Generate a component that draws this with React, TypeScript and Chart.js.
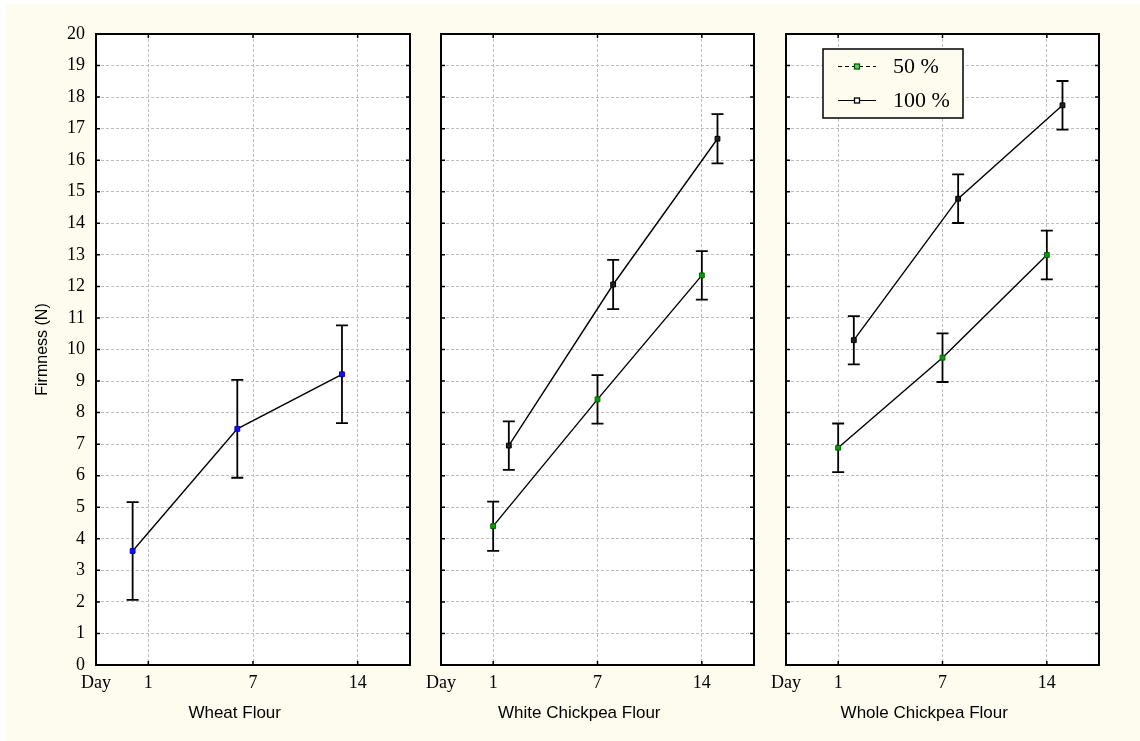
import React, { useEffect, useRef } from 'react';
import { Chart, registerables } from 'chart.js';

Chart.register(...registerables);

// ---- data ----
const xTickValues = [0, 1, 3, 5];
const xTickLabels = ['Day', '1', '7', '14'];
const dayPositions = [1, 3, 5];

const panelTitles = ['Wheat Flour', 'White Chickpea Flour', 'Whole Chickpea Flour'];
const seriesNames = ['50 %', '100 %'];
const yAxisTitle = 'Firmness (N)';

const wheatValues = [3.615, 7.485, 9.215];
const wheatErrors = [1.55, 1.55, 1.55];

const white50Values = [4.4, 8.42, 12.35];
const white50Errors = [0.78, 0.77, 0.77];
const white100Values = [6.955, 12.06, 16.68];
const white100Errors = [0.77, 0.78, 0.78];

const whole50Values = [6.885, 9.74, 12.995];
const whole50Errors = [0.77, 0.77, 0.775];
const whole100Values = [10.295, 14.78, 17.74];
const whole100Errors = [0.765, 0.77, 0.77];

// dodge offsets of the groups around each day
const wheatOffset = -0.3;
const p50Offset = 0;
const p100Offset = 0.3;

// ---- styles ----
const CREAM = '#fefcef';
const SERIF = "'Liberation Serif', 'Times New Roman', serif";
const SANS = "'Liberation Sans', Arial, sans-serif";
const GRID = '#bdbdbd';

type Series = { values: number[]; errors: number[]; offset: number; fill: string; stroke: string };
type PanelCfg = {
  left: number; width: number; padRight: number; yWidth: number; showY: boolean;
  title: string; series: Series[]; legend: boolean;
};

const BLUE = { fill: '#1010ff', stroke: '#0000b0' };
const GREEN = { fill: '#00a000', stroke: '#006000' };
const BLACK = { fill: '#202020', stroke: '#000000' };

const panels: PanelCfg[] = [
  {
    left: 0, width: 430, padRight: 20, yWidth: 96, showY: true, title: panelTitles[0], legend: false,
    series: [{ values: wheatValues, errors: wheatErrors, offset: wheatOffset, ...BLUE }],
  },
  {
    left: 415, width: 355, padRight: 16, yWidth: 26, showY: false, title: panelTitles[1], legend: false,
    series: [
      { values: white50Values, errors: white50Errors, offset: p50Offset, ...GREEN },
      { values: white100Values, errors: white100Errors, offset: p100Offset, ...BLACK },
    ],
  },
  {
    left: 760, width: 380, padRight: 41, yWidth: 26, showY: false, title: panelTitles[2], legend: true,
    series: [
      { values: whole50Values, errors: whole50Errors, offset: p50Offset, ...GREEN },
      { values: whole100Values, errors: whole100Errors, offset: p100Offset, ...BLACK },
    ],
  },
];

function makeConfig(cfg: PanelCfg): any {
  const errorBars = {
    id: 'errorBars',
    beforeDatasetsDraw(chart: any) {
      const { ctx, scales } = chart;
      ctx.save();
      ctx.strokeStyle = '#000';
      ctx.lineWidth = 1.8;
      cfg.series.forEach((s) => {
        s.values.forEach((v, i) => {
          const px = scales.x.getPixelForValue(dayPositions[i] + s.offset);
          const top = scales.y.getPixelForValue(v + s.errors[i]);
          const bot = scales.y.getPixelForValue(v - s.errors[i]);
          ctx.beginPath();
          ctx.moveTo(px, top); ctx.lineTo(px, bot);
          ctx.moveTo(px - 6, top); ctx.lineTo(px + 6, top);
          ctx.moveTo(px - 6, bot); ctx.lineTo(px + 6, bot);
          ctx.stroke();
        });
      });
      ctx.restore();
    },
  };

  const frame = {
    id: 'frame',
    afterDraw(chart: any) {
      const { ctx, chartArea: a, scales } = chart;
      ctx.save();
      ctx.strokeStyle = '#000';
      ctx.lineWidth = 2;
      ctx.strokeRect(a.left, a.top, a.right - a.left, a.bottom - a.top);
      ctx.lineWidth = 1.5;
      ctx.beginPath();
      for (let v = 1; v < 20; v++) {
        const py = scales.y.getPixelForValue(v);
        ctx.moveTo(a.left, py); ctx.lineTo(a.left + 4, py);
        ctx.moveTo(a.right, py); ctx.lineTo(a.right - 4, py);
      }
      xTickValues.slice(1).forEach((v) => {
        const px = scales.x.getPixelForValue(v);
        ctx.moveTo(px, a.top); ctx.lineTo(px, a.top + 4);
        ctx.moveTo(px, a.bottom); ctx.lineTo(px, a.bottom - 4);
      });
      ctx.stroke();

      // panel title
      ctx.fillStyle = '#000';
      ctx.font = `17px ${SANS}`;
      ctx.textAlign = 'center';
      ctx.textBaseline = 'middle';
      ctx.fillText(cfg.title, scales.x.getPixelForValue(2.65), 713);

      if (cfg.legend) {
        const bx = a.left + 37, by = a.top + 15, bw = 140, bh = 69;
        ctx.fillStyle = CREAM;
        ctx.fillRect(bx, by, bw, bh);
        ctx.lineWidth = 1.5;
        ctx.strokeStyle = '#000';
        ctx.strokeRect(bx, by, bw, bh);
        const rows = [by + 17.5, by + 51.5];
        const marks = [GREEN, BLACK];
        rows.forEach((ry, i) => {
          ctx.save();
          ctx.strokeStyle = '#000';
          ctx.lineWidth = 1.2;
          if (i === 0) ctx.setLineDash([4, 3]);
          ctx.beginPath();
          ctx.moveTo(bx + 15, ry); ctx.lineTo(bx + 53, ry);
          ctx.stroke();
          ctx.restore();
          const mx = bx + 34;
          ctx.fillStyle = i === 0 ? '#60d060' : '#ffffff';
          ctx.fillRect(mx - 2.5, ry - 2.5, 5, 5);
          ctx.lineWidth = 1.3;
          ctx.strokeStyle = marks[i].stroke;
          ctx.strokeRect(mx - 2.5, ry - 2.5, 5, 5);
          ctx.fillStyle = '#000';
          ctx.font = `22px ${SERIF}`;
          ctx.textAlign = 'left';
          ctx.textBaseline = 'middle';
          ctx.fillText(seriesNames[i], bx + 70, ry + 1);
        });
      }
      ctx.restore();
    },
  };

  return {
    type: 'line',
    data: {
      datasets: cfg.series.map((s) => ({
        data: s.values.map((v, i) => ({ x: dayPositions[i] + s.offset, y: v })),
        borderColor: '#000',
        borderWidth: 1.4,
        tension: 0,
        fill: false,
        pointStyle: 'rect',
        pointRadius: 3.4,
        pointBorderWidth: 1,
        pointBackgroundColor: s.fill,
        pointBorderColor: s.stroke,
      })),
    },
    options: {
      responsive: false,
      animation: false,
      events: [],
      layout: { padding: { top: 34, right: cfg.padRight, left: 0, bottom: 0 } },
      plugins: { legend: { display: false }, tooltip: { enabled: false } },
      scales: {
        x: {
          type: 'linear',
          min: 0,
          max: 6,
          afterBuildTicks: (scale: any) => {
            scale.ticks = xTickValues.map((v) => ({ value: v }));
          },
          afterFit: (scale: any) => { scale.height = 76; },
          grid: { color: GRID, lineWidth: 1, drawTicks: false },
          border: { display: false, dash: [3, 2] },
          ticks: {
            autoSkip: false,
            maxRotation: 0,
            padding: 7,
            color: '#000',
            font: { family: SERIF, size: 18 },
            callback: (v: any) => xTickLabels[xTickValues.indexOf(Number(v))] ?? '',
          },
        },
        y: {
          type: 'linear',
          min: 0,
          max: 20,
          afterFit: (scale: any) => { scale.width = cfg.yWidth; },
          grid: { color: GRID, lineWidth: 1, drawTicks: false },
          border: { display: false, dash: [3, 2] },
          ticks: {
            display: cfg.showY,
            stepSize: 1,
            padding: 11,
            color: '#000',
            font: { family: SERIF, size: 18 },
          },
          title: {
            display: cfg.showY,
            text: yAxisTitle,
            color: '#000',
            font: { family: SANS, size: 16 },
            padding: { top: 33, bottom: 0 },
          },
        },
      },
    },
    plugins: [errorBars, frame],
  };
}

function Panel({ cfg }: { cfg: PanelCfg }) {
  const ref = useRef<HTMLCanvasElement>(null);
  useEffect(() => {
    const chart = new Chart(ref.current as HTMLCanvasElement, makeConfig(cfg));
    return () => chart.destroy();
  }, [cfg]);
  return (
    <canvas
      ref={ref}
      width={cfg.width}
      height={741}
      style={{ position: 'absolute', left: cfg.left, top: 0, width: cfg.width, height: 741 }}
    />
  );
}

export default function App() {
  return (
    <div style={{ position: 'fixed', left: 0, top: 0, width: 1140, height: 741, background: '#ffffff', overflow: 'hidden' }}>
      <div style={{ position: 'absolute', left: 5, top: 4, width: 1135, height: 737, background: CREAM }} />
      <div style={{ position: 'absolute', left: 96, top: 34, width: 314, height: 631, background: '#ffffff' }} />
      <div style={{ position: 'absolute', left: 441, top: 34, width: 313, height: 631, background: '#ffffff' }} />
      <div style={{ position: 'absolute', left: 786, top: 34, width: 313, height: 631, background: '#ffffff' }} />
      {panels.map((p, i) => (
        <Panel key={i} cfg={p} />
      ))}
    </div>
  );
}
